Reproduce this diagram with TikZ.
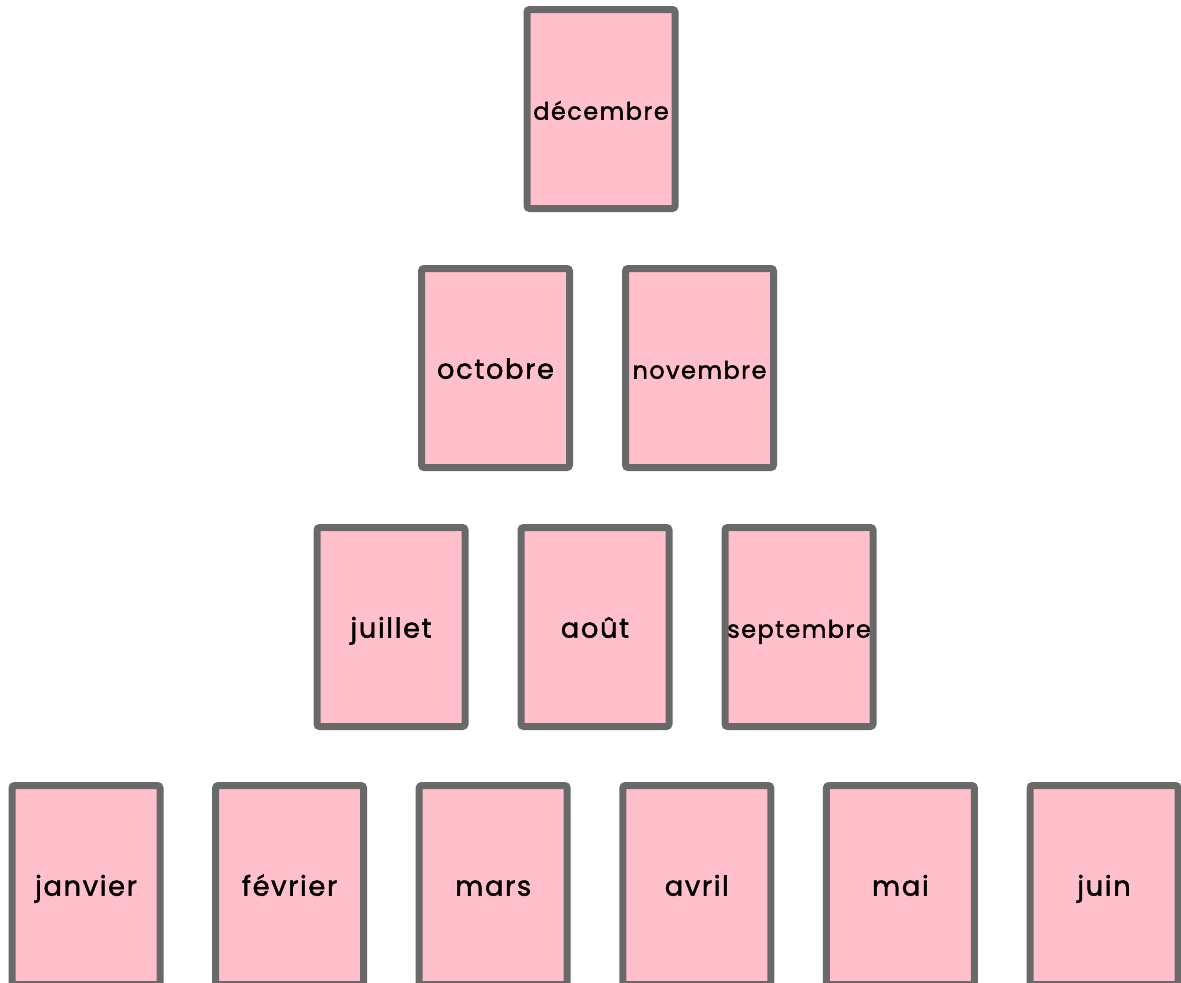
\documentclass[tikz,border=0pt]{standalone}
\usepackage{fontspec}
\setmainfont{Poppins}[LetterSpace=6,FakeBold=1.6]
\definecolor{boxpink}{HTML}{FFC0CB}
\definecolor{boxgray}{HTML}{696969}
\tikzset{
  monthbox/.style={draw=boxgray, fill=boxpink, line width=5.25pt, rounded corners=2pt,
    minimum width=111pt, minimum height=149.25pt, inner sep=0pt,
    text height=16pt, text depth=0pt, font=\fontsize{20.5}{22}\selectfont},
  longmonth/.style={font=\fontsize{18}{20}\selectfont}
}
\begin{document}
\begin{tikzpicture}[x=0.75pt,y=-0.75pt]
\useasboundingbox (0,0) rectangle (1181,982);
% rangee du haut
\node[monthbox,longmonth] (m12) at (601,109) {\makebox[0pt]{décembre}};
% deuxieme rangee
\node[monthbox] (m10) at (495.5,368) {\makebox[0pt]{octobre}};
\node[monthbox,longmonth] (m11) at (699.5,368) {\makebox[0pt]{novembre}};
% troisieme rangee
\node[monthbox] (m7) at (391,627) {\makebox[0pt]{juillet}};
\node[monthbox] (m8) at (595,627) {\makebox[0pt]{août}};
\node[monthbox,longmonth] (m9) at (799,627) {\makebox[0pt]{septembre}};
% rangee du bas
\node[monthbox] (m1) at (86,885) {\makebox[0pt]{janvier}};
\node[monthbox] (m2) at (289.6,885) {\makebox[0pt]{février}};
\node[monthbox] (m3) at (493.2,885) {\makebox[0pt]{mars}};
\node[monthbox] (m4) at (696.8,885) {\makebox[0pt]{avril}};
\node[monthbox] (m5) at (900.4,885) {\makebox[0pt]{mai}};
\node[monthbox] (m6) at (1104,885) {\makebox[0pt]{juin}};
\end{tikzpicture}
\end{document}
